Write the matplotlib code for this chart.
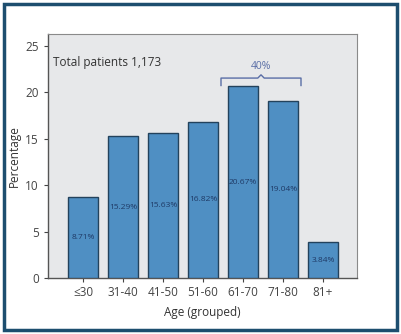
import matplotlib
matplotlib.use("Agg")
import matplotlib.pyplot as plt
from matplotlib.patches import Rectangle

categories = ["≤30", "31-40", "41-50", "51-60", "61-70", "71-80", "81+"]
values = [8.71, 15.29, 15.63, 16.82, 20.67, 19.04, 3.84]
value_labels = ["8.71%", "15.29%", "15.63%", "16.82%", "20.67%", "19.04%", "3.84%"]
yticks = [0, 5, 10, 15, 20, 25]

plt.rcParams['font.family'] = ['Open Sans', 'DejaVu Sans']

fig = plt.figure(figsize=(4.01, 3.34), dpi=100)
fig.patch.set_facecolor('white')
ax = fig.add_axes([48/401, 1 - 278/334, (357-48)/401, (278-34)/334])
ax.set_facecolor('#e7e8ea')

x = list(range(len(categories)))
ax.bar(x, values, width=0.75, color='#4f8fc3', edgecolor='#23425c', linewidth=1.0, zorder=3)
for xi, v, lab in zip(x, values, value_labels):
    ax.text(xi, v / 2, lab, ha='center', va='center', fontsize=6, color='#1f3a66', zorder=4)

ax.set_xlim(-0.875, 6.85)
ax.set_ylim(0, 26.3)
ax.set_yticks(yticks)
ax.set_xticks(x)
ax.set_xticklabels(categories)
ax.tick_params(axis='both', labelsize=8.5, colors='#444444', length=3, width=0.8, direction='out')
ax.tick_params(axis='x', pad=3)
for s in ['left', 'bottom']:
    ax.spines[s].set_color('#555555')
    ax.spines[s].set_linewidth(1.0)
for s in ['top', 'right']:
    ax.spines[s].set_color('#8a8a8a')
    ax.spines[s].set_linewidth(0.8)

ax.set_ylabel('Percentage', fontsize=8.5, color='#333333', labelpad=3)
ax.set_xlabel('Age (grouped)', fontsize=8.5, color='#333333', labelpad=5)

ax.text(-0.75, 23.2, 'Total patients 1,173', fontsize=8.5, color='#333333', va='center', ha='left')

# bracket
bc = '#5a6ea6'
x0, x1, yb, yt = 3.45, 5.45, 21.55, 20.75
xm = (x0 + x1) / 2
ax.plot([x0, x0, xm - 0.08, xm, xm + 0.08, x1, x1], [yt, yb, yb, yb + 0.35, yb, yb, yt],
        color=bc, linewidth=1.0, zorder=5, clip_on=False)
ax.text(xm, 22.75, '40%', ha='center', va='center', fontsize=7.5, color=bc)

# outer frame
fig.patches.append(Rectangle((4/401, 4/334), 393/401, 326/334, transform=fig.transFigure,
                             fill=False, edgecolor='#1d4e6f', linewidth=2.5))

fig.savefig('out.png', dpi=100)
